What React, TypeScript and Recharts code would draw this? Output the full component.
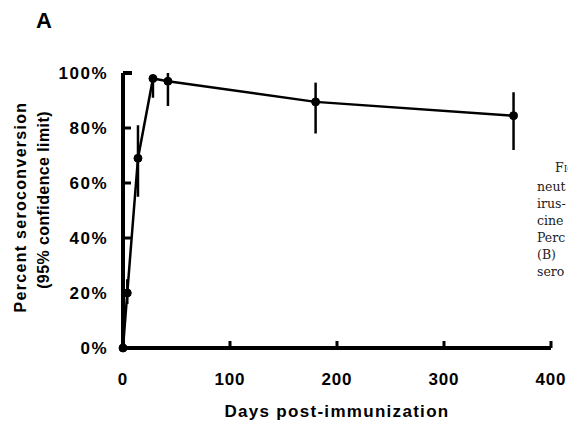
import { LineChart, Line, XAxis, YAxis, ErrorBar, Label } from 'recharts';

// days after immunization and percent seroconverted, with 95% CI bounds
const days = [0, 4, 14, 28, 42, 180, 365];
const seroconversion = [0, 20, 69, 98, 97, 89.5, 84.5];
const lowerCI = [0, 16, 55, 91, 88, 78, 72];
const upperCI = [0, 25, 81, 99, 100, 96.5, 93];

const xTicks = [0, 100, 200, 300, 400];
const yTicks = [0, 20, 40, 60, 80, 100];

// caption fragment cut off at the right edge of the scan
const captionLines = ['neut', 'irus-', 'cine', 'Perc', '(B)', 'sero'];

const data = days.map((d, i) => ({
    day: d,
    pct: seroconversion[i],
    ci: [seroconversion[i] - lowerCI[i], upperCI[i] - seroconversion[i]],
}));

const FONT = '"Liberation Sans", Arial, sans-serif';

const XTick = (props: any) => {
    const { x, y, payload } = props;
    return (
        <g>
            <line x1={x} y1={y} x2={x} y2={y - 7} stroke="#000" strokeWidth={3} />
            <text x={x} y={y + 37} textAnchor="middle" fontFamily={FONT} fontWeight="bold" fontSize={17} letterSpacing={0.8} fill="#000">
                {payload.value}
            </text>
        </g>
    );
};

const YTick = (props: any) => {
    const { x, y, payload } = props;
    return (
        <g>
            <line x1={x} y1={y} x2={x + (payload.value === 100 ? 9 : 8)} y2={y} stroke="#000" strokeWidth={payload.value === 100 ? 4 : 3} />
            <text x={x - 15} y={y + 6} textAnchor="end" fontFamily={FONT} fontWeight="bold" fontSize={17} letterSpacing={1.5} fill="#000">
                {payload.value}%
            </text>
        </g>
    );
};

const YTitle = () => (
    <g fontFamily={FONT} fontWeight="bold" fontSize={16} fill="#000">
        <text transform="translate(26,207) rotate(-90)" textAnchor="middle" letterSpacing={1.3}>
            Percent seroconversion
        </text>
        <text transform="translate(49,200) rotate(-90)" textAnchor="middle" letterSpacing={0.4}>
            (95% confidence limit)
        </text>
    </g>
);

const App = () => (
    <div style={{ position: 'absolute', left: 0, top: 0, width: 568, height: 425, background: '#fff' }}>
        <LineChart width={568} height={425} data={data} margin={{ top: 73, right: 17, bottom: 0, left: 0 }}>
            <XAxis
                type="number"
                dataKey="day"
                domain={[0, 400]}
                ticks={xTicks}
                tickSize={0}
                tickMargin={0}
                tick={<XTick />}
                axisLine={{ stroke: '#000', strokeWidth: 4 }}
                tickLine={false}
                height={77}
            >
                <Label
                    value="Days post-immunization"
                    position="insideBottom"
                    offset={8}
                    style={{ fontFamily: FONT, fontWeight: 'bold', fontSize: 17, letterSpacing: 1.3, fill: '#000' }}
                />
            </XAxis>
            <YAxis
                type="number"
                domain={[0, 100]}
                ticks={yTicks}
                width={123}
                tickSize={0}
                tickMargin={0}
                tick={<YTick />}
                axisLine={{ stroke: '#000', strokeWidth: 4 }}
                tickLine={false}
            >
                <Label content={<YTitle />} />
            </YAxis>
            <Line
                type="linear"
                dataKey="pct"
                stroke="#000"
                strokeWidth={2.5}
                dot={{ r: 4, fill: '#000', stroke: '#000', strokeWidth: 1 }}
                isAnimationActive={false}
            >
                <ErrorBar dataKey="ci" direction="y" width={0} stroke="#000" strokeWidth={2.5} isAnimationActive={false} />
            </Line>
        </LineChart>
        <div style={{ position: 'absolute', left: 36, top: 10, fontFamily: FONT, fontWeight: 'bold', fontSize: 22, lineHeight: '22px' }}>A</div>
        <div style={{ position: 'absolute', left: 537, top: 159, width: 31, overflow: 'hidden', fontFamily: '"DejaVu Serif", serif', fontSize: 12.5, lineHeight: '17px', color: '#222', whiteSpace: 'nowrap' }}>
            <div style={{ paddingLeft: 18, height: 19, fontVariant: 'small-caps' }}>Fig.</div>
            {captionLines.map((t) => (
                <div key={t}>{t}</div>
            ))}
        </div>
    </div>
);

export default App;
